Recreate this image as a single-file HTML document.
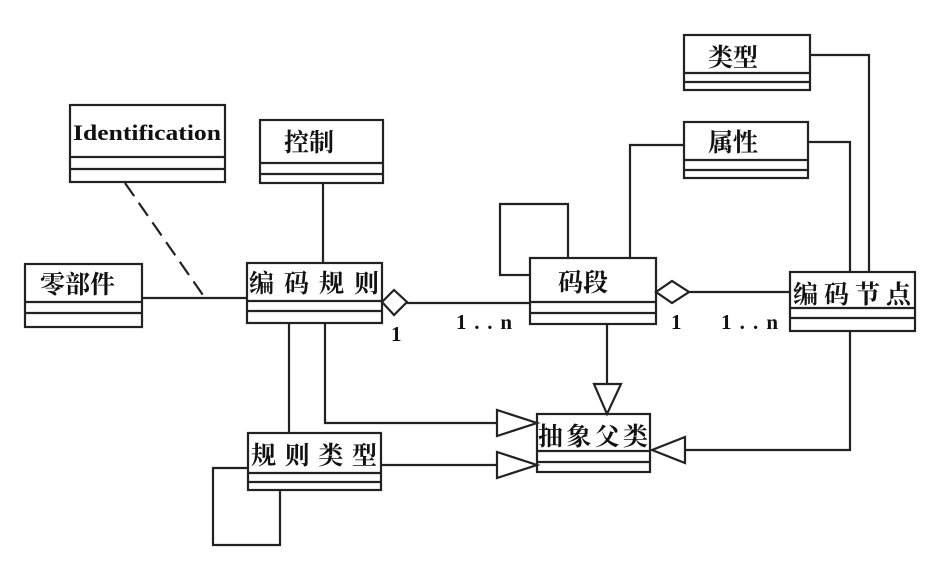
<!DOCTYPE html>
<html><head><meta charset="utf-8"><style>
html,body{margin:0;padding:0;background:#fff;width:946px;height:563px;overflow:hidden}
text{font-family:"Liberation Serif","Noto Serif CJK SC","Noto Sans CJK SC",serif;fill:#111;font-weight:bold}
</style></head><body>
<svg width="946" height="563" viewBox="0 0 946 563" xmlns="http://www.w3.org/2000/svg">
<g fill="none" stroke="#222" stroke-width="2.2">
<rect x="70" y="105" width="155" height="77"/><line x1="70" y1="157" x2="225" y2="157"/><line x1="70" y1="169" x2="225" y2="169"/>
<rect x="260" y="120" width="123" height="63"/><line x1="260" y1="163" x2="383" y2="163"/><line x1="260" y1="174" x2="383" y2="174"/>
<rect x="25" y="264" width="117" height="63"/><line x1="25" y1="302" x2="142" y2="302"/><line x1="25" y1="313" x2="142" y2="313"/>
<rect x="247" y="263" width="135" height="60"/><line x1="247" y1="301" x2="382" y2="301"/><line x1="247" y1="311" x2="382" y2="311"/>
<rect x="530" y="258" width="126" height="66"/><line x1="530" y1="302" x2="656" y2="302"/><line x1="530" y1="313" x2="656" y2="313"/>
<rect x="790" y="272" width="125" height="59"/><line x1="790" y1="308" x2="915" y2="308"/><line x1="790" y1="318" x2="915" y2="318"/>
<rect x="684" y="35" width="126" height="55"/><line x1="684" y1="73" x2="810" y2="73"/><line x1="684" y1="82" x2="810" y2="82"/>
<rect x="684" y="122" width="124" height="56"/><line x1="684" y1="160" x2="808" y2="160"/><line x1="684" y1="170" x2="808" y2="170"/>
<rect x="537" y="414" width="113" height="58"/><line x1="537" y1="451" x2="650" y2="451"/><line x1="537" y1="462" x2="650" y2="462"/>
<rect x="248" y="433" width="133" height="57"/><line x1="248" y1="473" x2="381" y2="473"/><line x1="248" y1="482" x2="381" y2="482"/>
<line x1="142" y1="298" x2="247" y2="298"/>
<line x1="125" y1="183" x2="205" y2="298" stroke-dasharray="16,8"/>
<line x1="323" y1="183" x2="323" y2="263"/>
<polygon points="382,302 394,290 407,302 394,315"/>
<line x1="407" y1="303" x2="530" y2="303"/>
<polygon points="656,292 672,281 689,292 672,303"/>
<line x1="689" y1="292" x2="790" y2="292"/>
<polyline points="530,275 500,275 500,204 568,204 568,258"/>
<polyline points="684,145 630,145 630,258"/>
<polyline points="808,142 850,142 850,272"/>
<polyline points="810,55 869,55 869,272"/>
<line x1="607" y1="324" x2="607" y2="384"/>
<polygon points="594,384 621,384 607,414"/>
<polyline points="325,323 325,423 497,423"/>
<polygon points="497,410 497,436 537,423"/>
<line x1="289" y1="323" x2="289" y2="433"/>
<line x1="381" y1="465" x2="497" y2="465"/>
<polygon points="497,452 497,478 537,465"/>
<polyline points="850,331 850,450 685,450"/>
<polygon points="685,437 685,463 652,450"/>
<polyline points="248,468 213,468 213,545 280,545 280,490"/>
</g>
<text x="73" y="140" font-size="22" textLength="148" lengthAdjust="spacingAndGlyphs">Identification</text>
<text x="284" y="151" font-size="25">控制</text>
<text x="40" y="293" font-size="25">零部件</text>
<text x="249" y="292" font-size="25" textLength="130">编码规则</text>
<text x="558" y="291" font-size="25">码段</text>
<text x="793" y="303" font-size="25" textLength="118">编码节点</text>
<text x="708" y="66" font-size="25">类型</text>
<text x="708" y="151" font-size="25">属性</text>
<text x="538" y="445" font-size="25" textLength="110">抽象父类</text>
<text x="251" y="464" font-size="25" textLength="126">规则类型</text>
<text x="391" y="341" font-size="21">1</text>
<text x="456" y="329" font-size="21" textLength="56">1..n</text>
<text x="671" y="329" font-size="21">1</text>
<text x="721" y="329" font-size="21" textLength="57">1..n</text>
</svg>
</body></html>
